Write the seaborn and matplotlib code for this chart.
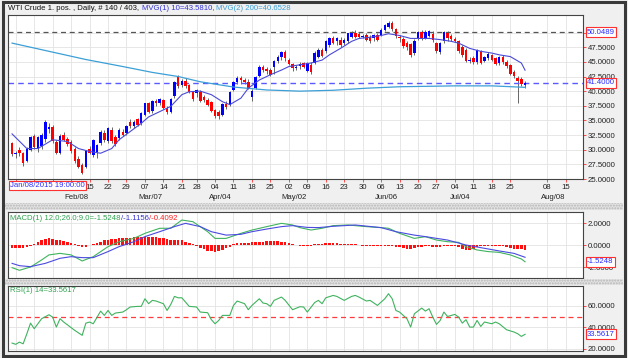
import numpy as np
import pandas as pd
import matplotlib
matplotlib.use("Agg")
import matplotlib.pyplot as plt
import matplotlib.transforms as mtransforms
from matplotlib.patches import Rectangle
from matplotlib.ticker import FormatStrFormatter
import seaborn as sns

plt.rcParams['font.family'] = ['Liberation Sans', 'DejaVu Sans']
FS = 5.6

# 140 daily bars, Good Friday missing
dates = pd.bdate_range("2016-01-15", "2016-07-29")
dates = dates[dates != pd.Timestamp("2016-03-25")]

open_ = [31.1, 29.2, 30.0, 29.4, 28.1, 30.0, 32.4, 30.1, 30.6, 31.8,
         33.6, 33.9, 31.4, 29.5, 32.5, 31.9, 31.4, 30.2, 28.5, 27.4,
         27.1, 30.2, 29.1, 29.6, 31.1, 32.8, 31.5, 33.4, 32.2, 32.0,
         33.1, 32.8, 34.8, 34.0, 35.2, 34.5, 36.0, 37.9, 36.6, 38.4,
         38.0, 38.5, 37.2, 36.5, 39.1, 42.4, 41.1, 41.8, 41.0, 39.9,
         39.6, 39.9, 39.0, 38.5, 38.2, 36.8, 36.5, 36.0, 37.8, 37.6,
         40.2, 41.6, 42.3, 41.9, 41.6, 39.0, 40.5, 42.6, 44.2, 43.8,
         43.6, 44.2, 45.1, 45.9, 46.6, 45.4, 44.6, 43.9, 44.3, 44.8,
         43.5, 44.5, 44.8, 45.9, 47.1, 46.8, 47.9, 49.0, 48.5, 48.8,
         48.2, 48.5, 49.3, 49.9, 49.8, 49.3, 49.6, 49.3, 49.0, 49.6,
         49.6, 50.5, 51.0, 51.6, 50.6, 49.2, 48.9, 48.3, 48.0, 46.5,
         49.0, 50.1, 49.1, 49.4, 49.8, 48.2, 46.6, 48.5, 50.0, 49.4,
         48.9, 48.5, 47.5, 47.1, 45.2, 45.6, 44.9, 46.8, 45.2, 45.7,
         46.2, 45.6, 44.8, 45.8, 45.0, 44.4, 43.3, 42.3, 42.1, 41.1]
high = [31.4, 29.8, 30.5, 29.6, 30.4, 32.4, 32.6, 32.3, 32.8, 35.1,
        34.6, 34.2, 31.6, 32.6, 33.0, 32.2, 31.6, 30.4, 29.0, 27.7,
        30.0, 30.6, 31.9, 31.0, 33.3, 33.3, 33.9, 33.8, 32.5, 33.7,
        33.6, 34.3, 35.2, 35.1, 35.5, 36.4, 38.0, 38.2, 38.5, 38.6,
        38.8, 38.6, 37.4, 38.9, 41.8, 42.7, 42.0, 42.3, 41.2, 40.1,
        40.4, 40.2, 39.4, 38.9, 38.4, 37.0, 36.8, 38.0, 38.4, 40.0,
        41.7, 42.6, 42.6, 42.2, 42.0, 40.3, 42.6, 44.4, 44.5, 44.2,
        43.9, 45.3, 46.1, 46.8, 47.0, 45.6, 44.8, 44.5, 44.9, 45.0,
        45.0, 44.9, 46.8, 47.3, 47.4, 48.7, 49.2, 49.5, 49.2, 49.3,
        49.0, 50.0, 50.3, 50.5, 50.1, 49.7, 49.9, 49.6, 49.8, 50.0,
        50.8, 51.5, 51.9, 51.9, 50.8, 49.6, 49.2, 48.6, 48.3, 48.9,
        50.3, 50.4, 50.4, 50.5, 50.2, 48.4, 48.4, 50.3, 50.2, 49.8,
        49.2, 48.7, 47.8, 47.4, 45.8, 46.0, 47.2, 47.0, 46.0, 46.6,
        46.4, 45.9, 46.0, 46.2, 45.4, 44.6, 43.6, 42.6, 42.4, 41.8]
low = [28.9, 28.6, 28.9, 27.3, 27.9, 29.8, 30.2, 29.6, 30.2, 31.4,
       32.9, 31.2, 29.3, 29.2, 31.5, 30.7, 29.5, 27.8, 26.9, 25.9,
       26.9, 29.2, 28.7, 28.6, 30.8, 31.4, 31.2, 31.2, 30.6, 31.6,
       32.3, 32.5, 33.7, 33.7, 34.0, 34.3, 35.8, 36.2, 36.3, 37.5,
       37.6, 37.0, 36.1, 36.2, 38.9, 40.5, 40.7, 40.6, 39.7, 38.4,
       39.0, 38.2, 38.1, 37.4, 36.4, 35.4, 35.3, 35.8, 37.0, 37.4,
       40.0, 41.2, 41.3, 41.2, 40.3, 38.4, 40.3, 42.4, 43.3, 43.0,
       42.6, 43.0, 44.8, 45.4, 45.1, 44.4, 43.5, 43.6, 43.8, 43.9,
       43.2, 42.9, 44.6, 45.7, 45.8, 46.5, 47.6, 48.0, 47.8, 47.6,
       47.9, 48.3, 49.0, 49.1, 49.1, 49.1, 48.5, 48.2, 48.6, 48.6,
       49.4, 50.3, 50.7, 50.3, 49.1, 48.4, 47.4, 47.1, 45.9, 46.2,
       48.8, 48.8, 48.9, 49.2, 48.4, 46.5, 46.3, 48.2, 48.6, 48.6,
       48.4, 46.5, 45.8, 44.9, 44.8, 44.6, 44.7, 44.6, 44.9, 45.3,
       45.1, 44.4, 44.5, 44.6, 44.0, 42.7, 42.2, 37.9, 40.8, 40.6]
close = [29.2, 29.4, 29.4, 27.8, 30.1, 32.2, 30.5, 32.1, 32.5, 34.8,
         33.8, 31.5, 29.4, 32.4, 31.7, 30.9, 29.7, 28.0, 27.1, 26.0,
         29.7, 29.4, 31.7, 30.8, 33.1, 31.7, 33.7, 31.5, 31.0, 33.4,
         32.5, 34.0, 34.1, 34.8, 34.3, 36.2, 37.9, 36.5, 38.3, 37.9,
         38.6, 37.2, 36.4, 38.7, 41.6, 40.8, 41.8, 40.8, 39.9, 38.6,
         40.2, 38.3, 38.5, 37.7, 36.6, 35.7, 35.7, 37.8, 37.3, 39.9,
         41.5, 42.3, 41.9, 41.5, 40.5, 40.1, 42.4, 44.2, 43.6, 43.5,
         42.8, 45.1, 45.9, 46.6, 45.6, 44.6, 43.9, 44.1, 44.6, 44.1,
         44.8, 43.2, 46.5, 47.1, 46.0, 48.5, 49.0, 48.2, 49.0, 47.9,
         48.8, 49.9, 50.0, 49.3, 49.3, 49.4, 48.8, 48.5, 49.6, 48.8,
         50.5, 51.3, 51.7, 50.6, 49.4, 49.0, 47.7, 47.5, 46.2, 48.6,
         50.1, 49.1, 50.1, 50.2, 48.7, 46.8, 48.2, 50.1, 49.0, 48.9,
         48.6, 46.8, 46.1, 45.1, 45.4, 44.9, 47.0, 44.8, 45.8, 46.4,
         45.4, 44.6, 45.8, 44.9, 44.3, 43.0, 42.6, 41.7, 41.2, 41.4]

# moving averages (bar number, value)
ma10_bar = [0, 4, 7, 11, 15, 18, 21, 24, 27, 29, 32, 35, 37, 40, 43, 46, 48, 51, 54, 57,
            59, 62, 64, 67, 70, 73, 75, 78, 81, 84, 86, 89, 92, 94, 97, 100, 102, 105, 108,
            111, 113, 116, 119, 121, 124, 127, 130, 132, 135, 138, 139]
ma10_val = [32.7, 30.2, 30.2, 31.7, 31.4, 30.2, 29.7, 29.4, 30.2, 31.7, 33.1, 34.5, 35.6,
            36.5, 37.4, 39.4, 39.9, 40.0, 39.4, 38.2, 37.7, 38.8, 40.5, 41.9, 42.8, 43.6,
            44.2, 44.5, 44.8, 45.3, 46.2, 47.3, 48.5, 49.0, 49.2, 49.5, 49.8, 49.5, 49.0,
            49.0, 49.0, 48.8, 48.5, 48.2, 47.3, 46.8, 46.5, 46.2, 45.9, 44.8, 43.58]
ma200_bar = [0, 10, 20, 30, 38, 45, 51, 56, 60, 69, 78, 87, 96, 105, 120, 130, 139]
ma200_val = [48.2, 46.8, 45.4, 44.2, 43.2, 42.5, 41.6, 41.1, 40.7, 40.2, 40.0, 40.15,
             40.5, 40.75, 40.9, 40.9, 40.65]

# MACD (12,26,9)
macd_bar = [0, 2, 5, 8, 10, 13, 16, 19, 22, 26, 29, 33, 36, 40, 43, 46, 49, 53, 55, 58,
            62, 65, 69, 73, 76, 78, 81, 84, 87, 91, 93, 96, 100, 102, 105, 109, 112, 115,
            118, 121, 123, 126, 129, 132, 135, 138, 139]
macd_val = [-2.06, -2.3, -2.0, -1.36, -0.9, -0.76, -0.9, -1.45, -1.06, -0.15, 0.3, 0.6,
            1.06, 1.52, 1.52, 2.27, 2.12, 1.21, 0.6, 0.6, 1.06, 1.36, 1.67, 1.97, 1.82,
            1.58, 1.36, 1.52, 1.76, 1.82, 1.76, 1.67, 1.58, 1.52, 1.06, 0.6, 0.76, 0.45,
            0.3, 0.24, -0.15, -0.45, -0.6, -0.67, -0.9, -1.27, -1.5248]
signal_bar = [0, 2, 5, 9, 13, 16, 19, 22, 26, 29, 33, 36, 40, 44, 47, 51, 54, 58, 62, 65,
              69, 73, 76, 80, 83, 87, 93, 100, 104, 109, 112, 118, 123, 127, 132, 136, 139]
signal_val = [-1.67, -1.88, -1.97, -1.67, -1.21, -1.06, -1.15, -1.15, -0.6, -0.15, 0.3,
              0.76, 1.21, 1.67, 1.97, 1.67, 1.21, 0.9, 0.97, 1.21, 1.45, 1.67, 1.76, 1.6,
              1.58, 1.7, 1.82, 1.58, 1.21, 0.9, 0.76, 0.45, 0.0, -0.24, -0.54, -0.76, -1.1156]
hist = [-0.25, -0.28, -0.3, -0.3, -0.2, -0.05, 0.1, 0.3, 0.45, 0.55,
        0.6, 0.55, 0.45, 0.45, 0.35, 0.25, 0.15, 0.05, -0.1, -0.2,
        -0.15, 0.0, 0.1, 0.15, 0.3, 0.45, 0.5, 0.55, 0.55, 0.6,
        0.6, 0.65, 0.65, 0.7, 0.7, 0.72, 0.75, 0.75, 0.72, 0.7,
        0.65, 0.6, 0.55, 0.5, 0.5, 0.5, 0.45, 0.3, 0.15, 0.05,
        -0.1, -0.25, -0.4, -0.5, -0.55, -0.6, -0.55, -0.45, -0.3, -0.15,
        0.05, 0.15, 0.15, 0.15, 0.2, 0.25, 0.28, 0.3, 0.3, 0.32,
        0.33, 0.35, 0.35, 0.3, 0.25, 0.15, 0.05, -0.02, -0.08, -0.1,
        -0.1, -0.05, 0.05, 0.1, 0.12, 0.15, 0.15, 0.15, 0.15, 0.12,
        0.12, 0.1, 0.08, 0.05, 0.0, -0.05, -0.08, -0.1, -0.1, -0.08,
        -0.08, -0.05, -0.05, -0.1, -0.15, -0.2, -0.3, -0.35, -0.35, -0.3,
        -0.2, -0.15, -0.12, -0.12, -0.15, -0.15, -0.15, -0.1, -0.1, -0.1,
        -0.1, -0.2, -0.35, -0.45, -0.45, -0.35, -0.2, -0.1, -0.1, -0.08,
        -0.08, -0.1, -0.1, -0.1, -0.2, -0.3, -0.35, -0.38, -0.4, -0.41]

# RSI(14)
rsi_bar = [0, 1, 2, 3, 4, 5, 6, 7, 8, 10, 11, 12, 13, 14, 17, 19, 20, 21, 22, 24, 25, 26,
           27, 28, 30, 31, 32, 34, 35, 36, 37, 38, 39, 41, 42, 43, 44, 45, 46, 47, 48, 50,
           51, 53, 54, 55, 56, 57, 59, 60, 61, 63, 64, 65, 67, 68, 69, 70, 71, 73, 74, 76,
           78, 79, 80, 82, 83, 84, 85, 87, 88, 90, 92, 93, 94, 96, 97, 99, 101, 102, 103,
           104, 105, 106, 107, 108, 109, 111, 112, 113, 114, 115, 116, 117, 118, 120, 121,
           122, 123, 124, 125, 126, 127, 128, 130, 131, 132, 134, 136, 137, 138, 139]
rsi_val = [25.4, 24.2, 26.3, 24.7, 34.0, 44.0, 38.8, 43.4, 48.1, 51.8, 49.6, 40.3, 48.1,
           45.0, 37.2, 32.6, 44.0, 45.0, 43.4, 55.2, 51.2, 55.8, 51.2, 53.4, 54.3, 56.5,
           59.0, 59.6, 59.6, 66.7, 62.1, 65.2, 64.6, 62.1, 55.8, 61.4, 68.9, 67.6, 67.6,
           63.6, 59.6, 59.0, 54.3, 53.7, 47.2, 43.4, 46.5, 51.2, 51.2, 60.5, 64.6, 62.1,
           56.5, 60.5, 66.7, 62.7, 62.1, 59.6, 65.2, 68.3, 65.2, 56.5, 59.3, 59.0, 54.3,
           63.2, 65.2, 62.1, 67.6, 69.8, 68.9, 65.2, 68.9, 69.8, 68.3, 64.6, 65.2, 60.5,
           66.7, 71.4, 66.7, 55.8, 54.3, 51.2, 48.1, 40.3, 52.7, 58.0, 55.2, 57.4, 49.6,
           42.8, 46.5, 54.3, 50.2, 52.1, 49.6, 44.0, 47.2, 40.3, 40.3, 46.5, 40.9, 45.0,
           43.4, 45.0, 43.4, 37.8, 35.7, 34.1, 31.6, 33.5617]

week_ticks = list(pd.date_range("2016-01-18", "2016-07-25", freq="7D")) + \
    [pd.Timestamp("2016-08-08"), pd.Timestamp("2016-08-15")]
month_ticks = ["2016-02-08", "2016-03-07", "2016-04-04", "2016-05-02",
               "2016-06-06", "2016-07-04", "2016-08-08"]
month_names = ["Feb/08", "Mar/07", "Apr/04", "May/02", "Jun/06", "Jul/04", "Aug/08"]


def bar_pos(d):
    d = pd.Timestamp(d)
    if d <= dates[-1]:
        return int(dates.searchsorted(d))
    return len(dates) - 1 + len(pd.bdate_range(dates[-1], d)) - 1


W, H = 628, 358
fig = plt.figure(figsize=(W / 100, H / 100), dpi=100, facecolor="#f0f0f0")


def px_axes(l, t, r, b):
    return fig.add_axes([l / W, 1 - b / H, (r - l) / W, (b - t) / H])


ax = px_axes(8, 15, 583, 179)
axm = px_axes(8, 212, 583, 278)
axr = px_axes(8, 286, 583, 351)

xt = [bar_pos(d) for d in week_ticks]
for a in (ax, axm, axr):
    a.set_facecolor("white")
    a.set_xlim(-1.1, 154.7)
    a.set_xticks(xt)
    a.grid(True, color="#e3e3e3", lw=0.6)
    a.set_axisbelow(True)
    a.yaxis.tick_right()
    a.yaxis.set_major_formatter(FormatStrFormatter("%.4f"))
    a.tick_params(axis="y", length=2.5, width=0.6, color="#ff3030", labelsize=FS,
                  pad=1, labelcolor="#222222")
    for s in a.spines.values():
        s.set_color("#444444")
        s.set_linewidth(0.8)
for a in (axm, axr):
    a.tick_params(axis="x", length=0, labelbottom=False)

# the first weeks sit under the cursor date box
day_labels = [d.strftime("%d") for d in week_ticks]
day_labels = [""] * 4 + day_labels[4:]
ax.set_xticklabels(day_labels)
ax.tick_params(axis="x", length=2, width=0.6, color="#ff3030", labelsize=FS, pad=1.5,
               labelcolor="#222222")

# candles
xb = np.arange(len(close))
o = np.array(open_); c = np.array(close)
up = c >= o
ax.vlines(xb, low, high, color="#666666", lw=0.7, zorder=2)
body = np.maximum(np.abs(c - o), 0.08)
ax.bar(xb, body, bottom=np.minimum(o, c), width=0.68,
       color=np.where(up, "#0000ff", "#ff0000"), edgecolor="none", zorder=3)

sns.lineplot(x=ma200_bar, y=ma200_val, ax=ax, color="#3c9fd6", lw=0.9, zorder=4)
sns.lineplot(x=ma10_bar, y=ma10_val, ax=ax, color="#4a4ad8", lw=0.8, zorder=4)
ax.axhline(50.0489, color="#555555", lw=0.9, ls=(0, (4, 3)), zorder=2)
ax.axhline(41.4, color="#5a5aff", lw=1.0, ls=(0, (4, 3)), zorder=2)
ax.set_ylim(25, 53)
ax.set_yticks(np.arange(25, 50.1, 2.5))

# MACD
axm.bar(xb, hist, width=0.7, color="#ff1010", edgecolor="none", zorder=2)
sns.lineplot(x=macd_bar, y=macd_val, ax=axm, color="#3fb35e", lw=0.8, zorder=3)
sns.lineplot(x=signal_bar, y=signal_val, ax=axm, color="#4a4ae0", lw=0.8, zorder=3)
axm.set_ylim(-3, 3)
axm.set_yticks([-2, 0, 2])

# RSI
axr.axhline(50, color="#ff3b3b", lw=0.9, ls=(0, (4, 3)), zorder=2)
sns.lineplot(x=rsi_bar, y=rsi_val, ax=axr, color="#3fb35e", lw=0.8, zorder=3)
axr.set_ylim(18, 78.6)
axr.set_yticks([20, 40, 60])

for a in (ax, axm, axr):
    a.set_xlabel("")
    a.set_ylabel("")

# month row under the day numbers
for d, name in zip(month_ticks, month_names):
    ax.text(bar_pos(d) + 1.5, -0.115, name, transform=mtransforms.blended_transform_factory(
        ax.transData, ax.transAxes), ha="center", va="center", fontsize=FS, color="#222222",
        clip_on=False)

box = dict(boxstyle="square,pad=0.18", fc="white", ec="#ff3030", lw=0.8)
ax.text(0.004, -0.018, "Jan/08/2015 19:00:00", transform=ax.transAxes, ha="left", va="top",
        fontsize=FS, color="#3030ff", bbox=box, clip_on=False, zorder=10)


def value_box(a, y, txt):
    a.text(1.007, y, txt, transform=mtransforms.blended_transform_factory(a.transAxes, a.transData),
           ha="left", va="center", fontsize=FS, color="#2a2aff", bbox=box, clip_on=False, zorder=10)


value_box(ax, 50.0489, "50.0489")
value_box(ax, 41.4, "41.4000")
value_box(axm, -1.5248, "-1.5248")
value_box(axr, 33.5617, "33.5617")

# coloured header pieces placed one after another
renderer = fig.canvas.get_renderer()


def chain(x_px, y_frac, parts, gap=0.0):
    x = x_px
    for txt, col in parts:
        t = fig.text(x / W, y_frac, txt, color=col, fontsize=FS, ha="left", va="center")
        x = t.get_window_extent(renderer).x1 + gap


chain(8, 1 - 9 / H, [("WTI Crude 1. pos. , Daily, # 140 / 403,", "#111111"),
                     ("MVG(1) 10=43.5810,", "#3434d4"),
                     ("MVG(2) 200=40.6528", "#3c9fd6")], gap=2.5)
chain(10, 1 - 218 / H, [("MACD(1) 12.0;26.0;9.0=-1.5248", "#2fa350"),
                        ("/-1.1156", "#3434d4"), ("/-0.4092", "#ff2020")], gap=0.3)
chain(10, 1 - 291 / H, [("RSI(1) 14=33.5617", "#2fa350")])

# dotted separator strips and window frame
for top, bot in ((203, 210), (279, 285)):
    fig.patches.append(Rectangle((3 / W, 1 - bot / H), 620 / W, (bot - top) / H,
                                 transform=fig.transFigure, fc="#e4e4e4", ec="#b5b5b5",
                                 hatch="......", lw=0))
fig.patches.append(Rectangle((2.5 / W, 2 / H), 622 / W, 354 / H, transform=fig.transFigure,
                             fill=False, ec="#3a3a3a", lw=2.2))

fig.savefig("out.png", dpi=100, facecolor=fig.get_facecolor())
